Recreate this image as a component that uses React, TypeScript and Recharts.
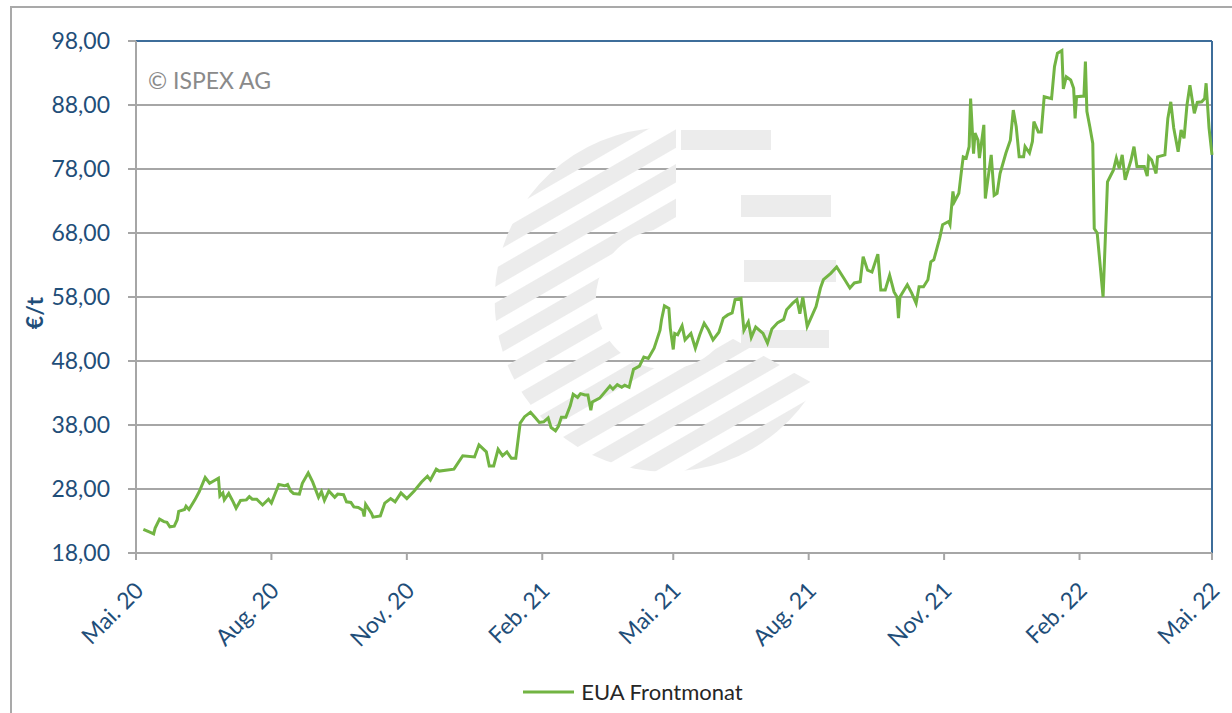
import { LineChart, Line, XAxis, YAxis, CartesianGrid, ReferenceLine, Customized } from 'recharts';

// trading day offsets since 1 May 2020 and EUA front month price (€/t)
const days = [
  5, 9, 12, 13, 16, 19, 21, 23, 26, 28, 29, 33, 34, 36, 40, 43, 47, 50, 53, 56, 57, 59, 60, 63, 66, 68, 71, 75, 77, 79,
  82, 86, 90, 92, 97, 101, 103, 105, 107, 111, 113, 117, 120, 124, 126, 128, 131, 135, 137, 141, 143, 146, 148, 151, 154, 155, 156, 160, 161, 166,
  169, 173, 176, 180, 184, 189, 194, 198, 200, 204, 206, 216, 222, 230, 233, 238, 240, 243, 246, 249, 252, 255, 258, 261, 264, 268, 271, 274, 277, 280,
  282, 285, 287, 289, 292, 295, 297, 300, 302, 305, 307, 309, 310, 315, 322, 324, 327, 330, 332, 335, 338, 342, 345, 348, 352, 356, 357, 359, 362, 363,
  365, 366, 368, 371, 373, 377, 380, 383, 386, 389, 392, 396, 399, 402, 405, 407, 411, 413, 416, 418, 421, 426, 429, 432, 436, 440, 442, 446, 449, 451,
  453, 456, 462, 465, 467, 472, 476, 481, 485, 488, 492, 494, 497, 500, 504, 506, 509, 512, 515, 517, 518, 519, 524, 527, 530, 532, 535, 538, 540, 542,
  546, 548, 552, 553, 555, 556, 559, 561, 562, 564, 566, 567, 569, 570, 572, 573, 576, 577, 581, 583, 585, 587, 591, 594, 596, 598, 600, 603, 604, 607,
  609, 610, 613, 615, 617, 622, 624, 626, 629, 630, 632, 635, 637, 638, 639, 644, 645, 646, 648, 650, 651, 653, 657, 660, 662, 664, 666, 668, 670, 672,
  676, 678, 680, 685, 687, 688, 690, 693, 694, 699, 701, 703, 705, 708, 710, 712, 714, 716, 719, 721, 724, 726, 727, 729, 731,
];
const prices = [
  21.7, 21.3, 21.0, 21.9, 23.3, 22.9, 22.8, 22.1, 22.2, 23.2, 24.5, 24.8, 25.3, 24.8, 26.3, 27.6, 29.8, 28.9, 29.3, 29.7, 26.9, 27.4, 26.3, 27.3, 26.0, 25.0, 26.2, 26.3, 26.8, 26.4,
  26.4, 25.5, 26.4, 25.8, 28.7, 28.5, 28.7, 27.7, 27.3, 27.2, 28.9, 30.5, 29.1, 26.7, 27.6, 26.2, 27.7, 26.7, 27.2, 27.1, 26.0, 25.9, 25.2, 25.1, 24.7, 23.7, 25.6, 24.2, 23.6, 23.8,
  25.8, 26.5, 26.0, 27.4, 26.5, 27.7, 29.1, 30.0, 29.4, 31.1, 30.8, 31.1, 33.2, 33.0, 34.9, 33.8, 31.6, 31.6, 34.2, 33.2, 33.8, 32.8, 32.8, 38.3, 39.3, 40.0, 39.2, 38.4, 38.5, 39.1,
  37.6, 37.1, 37.8, 39.2, 39.2, 41.0, 42.8, 42.3, 42.9, 42.7, 42.7, 40.3, 41.6, 42.2, 44.1, 43.6, 44.3, 43.9, 44.2, 43.9, 46.7, 47.2, 48.6, 48.4, 50.0, 52.8, 54.4, 56.6, 56.2, 53.1,
  49.8, 52.3, 52.1, 53.5, 51.3, 52.3, 50.0, 52.1, 53.9, 52.8, 51.3, 52.5, 54.7, 55.2, 55.5, 57.6, 57.8, 52.8, 54.1, 51.7, 53.3, 52.3, 50.8, 53.0, 54.0, 54.5, 56.0, 57.0, 57.6, 55.4,
  58.0, 53.4, 56.5, 59.4, 60.7, 61.7, 62.7, 60.9, 59.4, 60.2, 60.4, 64.3, 62.2, 61.9, 64.7, 59.1, 59.1, 61.4, 58.8, 58.0, 54.7, 58.0, 59.9, 58.6, 57.0, 59.6, 59.6, 60.7, 63.5, 63.8,
  67.2, 69.3, 69.8, 69.3, 74.5, 72.9, 74.2, 78.1, 79.9, 79.7, 81.5, 89.0, 80.4, 83.6, 82.5, 79.7, 84.9, 73.4, 80.2, 73.9, 74.2, 77.3, 80.5, 82.5, 87.2, 84.6, 79.9, 79.9, 81.5, 80.5,
  82.3, 85.4, 83.8, 83.8, 89.3, 89.0, 94.0, 96.1, 96.5, 90.5, 92.4, 91.9, 90.6, 85.9, 89.3, 89.4, 94.8, 87.0, 84.6, 82.0, 68.7, 68.0, 58.0, 76.0, 76.9, 77.8, 79.7, 78.1, 80.2, 76.3,
  79.4, 81.5, 78.4, 78.4, 76.9, 79.9, 79.4, 77.3, 79.9, 80.2, 85.9, 88.5, 84.4, 80.7, 84.1, 82.8, 88.0, 91.1, 86.7, 88.4, 88.5, 89.0, 91.4, 84.4, 80.2,
];

const tickDays = [0, 92, 184, 276, 365, 457, 549, 641, 731];
const tickLabels = ['Mai. 20', 'Aug. 20', 'Nov. 20', 'Feb. 21', 'Mai. 21', 'Aug. 21', 'Nov. 21', 'Feb. 22', 'Mai. 22'];
const yTicks = [18, 28, 38, 48, 58, 68, 78, 88, 98];
const seriesName = 'EUA Frontmonat';

const data = days.map((d, i) => ({ day: d, price: prices[i] }));

const BLUE = '#1f4e79';
const GRID = '#a6a6a6';
const GREEN = '#72b443';
const WM = '#ececec';
const FONT = 'Lato, "Open Sans", sans-serif';

function XTick({ x, y, payload }: any) {
  const idx = tickDays.indexOf(payload.value);
  return (
    <g transform={`translate(${x + 9},${y + 30})`}>
      <text textAnchor="end" transform="rotate(-45)" fill={BLUE} fontSize={23} fontFamily={FONT}>
        {tickLabels[idx]}
      </text>
    </g>
  );
}

function Watermark() {
  const cx = 666;
  const cy = 300;
  return (
    <g>
      <defs>
        <pattern id="wmStripes" width="30" height="30" patternUnits="userSpaceOnUse" patternTransform="rotate(60)">
          <rect x="0" y="0" width="16" height="30" fill={WM} />
        </pattern>
        <clipPath id="wmClip">
          <path d={`M ${cx + 10} ${cy - 172} A 172 172 0 1 0 ${cx + 150} ${cy + 85} L ${cx + 60} ${cy + 35} A 70 70 0 1 1 ${cx + 10} ${cy - 70} Z`} />
        </clipPath>
      </defs>
      <rect x={cx - 180} y={cy - 180} width={360} height={360} fill="url(#wmStripes)" clipPath="url(#wmClip)" />
      <rect x={cx + 15} y={cy - 170} width={90} height={20} fill={WM} />
      <rect x={cx + 75} y={cy - 105} width={90} height={22} fill={WM} />
      <rect x={cx + 78} y={cy - 40} width={92} height={22} fill={WM} />
      <rect x={cx + 75} y={cy + 30} width={88} height={18} fill={WM} />
    </g>
  );
}

function Overlay() {
  return (
    <g>
      <text x={148} y={89} fill="#8a8a8a" fontSize={23} fontFamily={FONT}>© ISPEX AG</text>
      <text
        x={43}
        y={313}
        transform="rotate(-90 43 313)"
        textAnchor="middle"
        fill={BLUE}
        fontSize={23}
        fontWeight="bold"
        fontFamily={FONT}
      >
        €/t
      </text>
    </g>
  );
}

export default function App() {
  return (
    <div style={{ position: 'absolute', left: 0, top: 0, width: 1232, height: 713, background: '#fff', overflow: 'hidden' }}>
      <div
        style={{
          position: 'absolute',
          left: 10,
          top: 6,
          width: 1240,
          height: 720,
          border: '2px solid #a9a9a9',
          boxSizing: 'border-box',
        }}
      />
      <div style={{ position: 'absolute', left: 0, top: 0 }}>
        <LineChart width={1232} height={713} data={data} margin={{ top: 41, right: 20, bottom: 0, left: 0 }}>
          <Customized component={Watermark} />
          <CartesianGrid horizontal vertical={false} stroke={GRID} strokeWidth={2} />
          <XAxis
            dataKey="day"
            type="number"
            domain={[0, 731]}
            ticks={tickDays}
            interval={0}
            tick={<XTick />}
            stroke={GRID}
            strokeWidth={2}
            tickSize={7}
            height={160}
          />
          <YAxis
            type="number"
            domain={[18, 98]}
            ticks={yTicks}
            interval={0}
            width={136}
            stroke={GRID}
            strokeWidth={2}
            tickSize={8}
            tickMargin={18}
            tickFormatter={(v: number) => v.toFixed(2).replace('.', ',')}
            tick={{ fill: BLUE, fontSize: 23, fontFamily: FONT }}
          />
          <ReferenceLine y={98} stroke="#3d6d9a" strokeWidth={2} />
          <ReferenceLine x={731} stroke="#3d6d9a" strokeWidth={2} />
          <Line
            type="linear"
            dataKey="price"
            name={seriesName}
            stroke={GREEN}
            strokeWidth={3}
            dot={false}
            isAnimationActive={false}
          />
          <Customized component={Overlay} />
        </LineChart>
      </div>
      <div
        style={{
          position: 'absolute',
          left: 0,
          top: 678,
          width: 1232,
          display: 'flex',
          justifyContent: 'center',
          alignItems: 'center',
          fontFamily: FONT,
        }}
      >
        <svg width={56} height={10} style={{ marginLeft: 32 }}>
          <line x1={2} y1={5} x2={53} y2={5} stroke={GREEN} strokeWidth={3} />
        </svg>
        <span style={{ fontSize: 22, color: '#262626', marginLeft: 4 }}>{seriesName}</span>
      </div>
    </div>
  );
}
